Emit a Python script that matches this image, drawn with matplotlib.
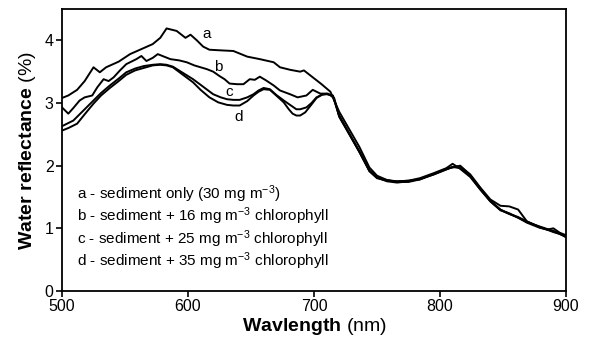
import matplotlib
matplotlib.use("Agg")
import matplotlib.pyplot as plt

plt.rcParams['font.family'] = ['Liberation Sans', 'DejaVu Sans']
plt.rcParams['mathtext.fontset'] = 'custom'
plt.rcParams['mathtext.rm'] = 'Liberation Sans'
plt.rcParams['mathtext.bf'] = 'Liberation Sans:bold'
plt.rcParams['mathtext.it'] = 'Liberation Sans:italic'

wl_a = [500, 505, 512, 518, 525, 530, 535, 545, 554, 563, 572, 578, 583, 591, 598, 602, 607, 612, 617,
        626, 636, 647, 657, 668, 673, 681, 689, 692, 699, 706, 713,
        720, 728, 736, 744, 750, 758, 766, 775, 784, 795, 805, 810, 816, 824, 832, 840, 848, 855, 862,
        869, 879, 885, 890, 895, 900]
val_a = [3.08, 3.12, 3.21, 3.35, 3.57, 3.49, 3.57, 3.66, 3.78, 3.86, 3.94, 4.04, 4.19, 4.15, 4.04, 4.09, 4.00,
         3.90, 3.85, 3.84, 3.83, 3.74, 3.70, 3.65, 3.57, 3.53, 3.50, 3.52, 3.41, 3.30, 3.18,
         2.86, 2.58, 2.30, 1.97, 1.84, 1.77, 1.75, 1.76, 1.80, 1.88, 1.96, 2.03, 1.95, 1.82, 1.62, 1.43,
         1.29, 1.24, 1.17, 1.10, 1.03, 0.99, 0.96, 0.91, 0.88]

wl_b = [500, 505, 509, 514, 518, 524, 528, 533, 537, 541, 546, 551, 555, 559, 563, 567, 572, 576, 581,
        586, 593, 599, 605, 610, 615, 620, 625, 629, 633, 639, 644, 649, 653, 657, 662, 668, 673, 681,
        687, 694, 699, 705, 710, 715,
        720, 728, 736, 744, 750, 758, 766, 775, 784, 795, 805, 810, 816, 824, 832, 840, 848, 855, 862,
        869, 879, 885, 890, 895, 900]
val_b = [2.93, 2.83, 2.92, 3.04, 3.09, 3.12, 3.25, 3.38, 3.35, 3.41, 3.52, 3.62, 3.66, 3.70, 3.75, 3.67,
         3.72, 3.78, 3.74, 3.70, 3.68, 3.65, 3.60, 3.57, 3.54, 3.50, 3.43, 3.38, 3.31, 3.30, 3.30, 3.38,
         3.37, 3.42, 3.36, 3.28, 3.20, 3.14, 3.09, 3.12, 3.21, 3.15, 3.15, 3.11,
         2.80, 2.51, 2.23, 1.92, 1.81, 1.75, 1.73, 1.75, 1.79, 1.86, 1.94, 1.98, 1.99, 1.86, 1.65, 1.46,
         1.36, 1.35, 1.30, 1.11, 1.02, 0.98, 0.95, 0.92, 0.86]

wl_c = [500, 505, 509, 517, 525, 531, 538, 545, 551, 558, 565, 572, 578, 583, 588, 596, 604, 612, 620,
        626, 631, 636, 641, 647, 652, 656, 660, 665, 670, 676, 681, 686, 689, 694, 698, 702, 706, 710, 715,
        720, 728, 736, 744, 750, 758, 766, 775, 784, 795, 805, 810, 816, 824, 832, 840, 848, 855, 862,
        869, 879, 885, 890, 895, 900]
val_c = [2.63, 2.68, 2.72, 2.88, 3.04, 3.16, 3.28, 3.39, 3.49, 3.55, 3.59, 3.61, 3.62, 3.61, 3.58, 3.48,
         3.38, 3.26, 3.14, 3.09, 3.06, 3.05, 3.05, 3.09, 3.14, 3.20, 3.24, 3.22, 3.13, 3.04, 2.97, 2.90,
         2.90, 2.93, 3.00, 3.09, 3.13, 3.14, 3.12,
         2.79, 2.51, 2.22, 1.91, 1.80, 1.76, 1.75, 1.76, 1.78, 1.87, 1.95, 1.97, 2.00, 1.85, 1.64, 1.44,
         1.30, 1.23, 1.18, 1.11, 1.02, 0.98, 1.00, 0.93, 0.89]

wl_d = [500, 505, 512, 518, 525, 531, 538, 545, 551, 558, 565, 572, 578, 583, 588, 596, 604, 610, 617,
        624, 631, 636, 641, 647, 652, 656, 660, 665, 670, 676, 680, 683, 686, 689, 693, 697, 702, 707, 711,
        716,
        720, 728, 736, 744, 750, 758, 766, 775, 784, 795, 805, 810, 816, 824, 832, 840, 848, 855, 862,
        869, 879, 885, 890, 895, 900]
val_d = [2.56, 2.60, 2.67, 2.82, 2.99, 3.12, 3.24, 3.35, 3.45, 3.52, 3.56, 3.60, 3.61, 3.60, 3.57, 3.45,
         3.33, 3.21, 3.09, 3.01, 2.97, 2.96, 2.96, 3.03, 3.12, 3.18, 3.22, 3.21, 3.12, 3.01, 2.90, 2.83,
         2.80, 2.80, 2.85, 2.95, 3.08, 3.14, 3.15, 3.08,
         2.78, 2.50, 2.22, 1.92, 1.81, 1.77, 1.74, 1.74, 1.78, 1.86, 1.94, 1.98, 1.96, 1.83, 1.62, 1.43,
         1.29, 1.23, 1.17, 1.09, 1.01, 0.98, 0.94, 0.91, 0.86]

curve_labels = ['a', 'b', 'c', 'd']
label_pos_wl = [615, 624, 633, 640]
label_pos_val = [4.10, 3.57, 3.17, 2.77]

legend_lines = [
    r"a - sediment only (30 mg m$^{-3}$)",
    r"b - sediment + 16 mg m$^{-3}$ chlorophyll",
    r"c - sediment + 25 mg m$^{-3}$ chlorophyll",
    r"d - sediment + 35 mg m$^{-3}$ chlorophyll",
]

x_ticks = [500, 600, 700, 800, 900]
y_ticks = [0, 1, 2, 3, 4]

fig = plt.figure(figsize=(5.91, 3.41), dpi=100)
ax = fig.add_axes([62/591, 1 - 291/341, (566 - 62)/591, (291 - 9)/341])

for wl, val in [(wl_a, val_a), (wl_b, val_b), (wl_c, val_c), (wl_d, val_d)]:
    ax.plot(wl, val, color='black', lw=1.4, solid_joinstyle='round')

for lab, xw, yv in zip(curve_labels, label_pos_wl, label_pos_val):
    ax.text(xw, yv, lab, fontsize=11, ha='center', va='center')

for i, line in enumerate(legend_lines):
    ax.text(512, 1.55 - i * 0.358, line, fontsize=11, ha='left', va='center')

ax.set_xlim(500, 900)
ax.set_ylim(0, 4.5)
ax.set_xticks(x_ticks)
ax.set_yticks(y_ticks)
ax.tick_params(axis='both', labelsize=11.5, direction='out', length=4, width=1.2, pad=2)
for s in ax.spines.values():
    s.set_linewidth(1.3)

ax.set_xlabel(r"$\bf{Wavlength}$ (nm)", fontsize=14, labelpad=1)
ax.set_ylabel(r"$\bf{Water\ reflectance}$ (%)", fontsize=14, labelpad=5)

fig.savefig("out.png", dpi=100)
